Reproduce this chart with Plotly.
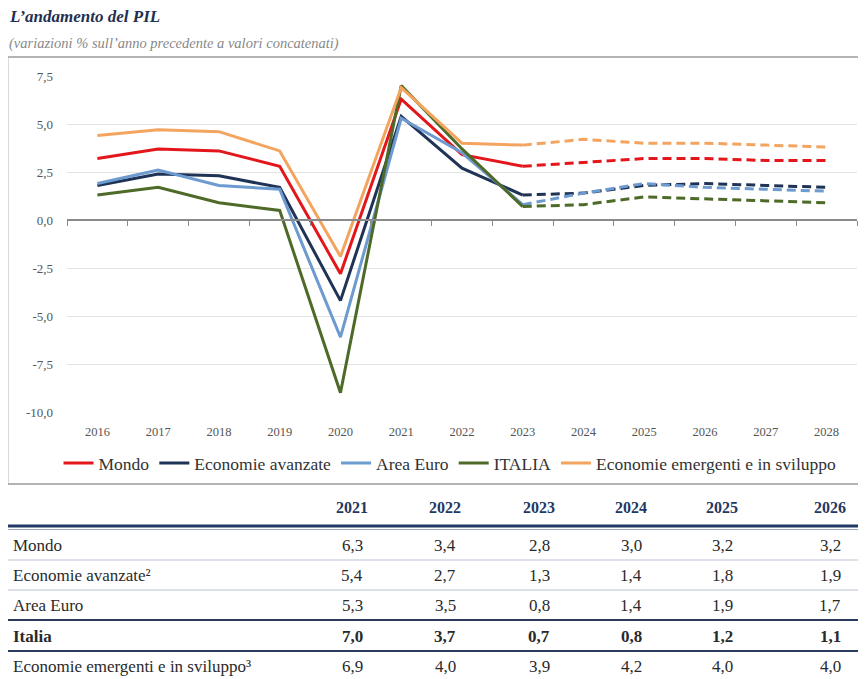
import plotly.graph_objects as go

# ---------------- data ----------------
years = ["2016", "2017", "2018", "2019", "2020", "2021", "2022",
         "2023", "2024", "2025", "2026", "2027", "2028"]
last_actual = "2023"

mondo     = [3.2, 3.7, 3.6, 2.8, -2.8, 6.3, 3.4, 2.8, 3.0, 3.2, 3.2, 3.1, 3.1]
avanzate  = [1.8, 2.4, 2.3, 1.7, -4.2, 5.4, 2.7, 1.3, 1.4, 1.8, 1.9, 1.8, 1.7]
area_euro = [1.9, 2.6, 1.8, 1.6, -6.1, 5.3, 3.5, 0.8, 1.4, 1.9, 1.7, 1.6, 1.5]
italia    = [1.3, 1.7, 0.9, 0.5, -9.0, 7.0, 3.7, 0.7, 0.8, 1.2, 1.1, 1.0, 0.9]
emergenti = [4.4, 4.7, 4.6, 3.6, -1.9, 6.9, 4.0, 3.9, 4.2, 4.0, 4.0, 3.9, 3.8]

series_names = ["Mondo", "Economie avanzate", "Area Euro", "ITALIA",
                "Economie emergenti e in sviluppo"]
series_values = [mondo, avanzate, area_euro, italia, emergenti]
series_colors = ["#e3161b", "#1f3356", "#6d9bd0", "#4e6a28", "#f3a45e"]

y_tickvals = [7.5, 5.0, 2.5, 0.0, -2.5, -5.0, -7.5, -10.0]
y_ticktext = ["7,5", "5,0", "2,5", "0,0", "-2,5", "-5,0", "-7,5", "-10,0"]

table_years = ["2021", "2022", "2023", "2024", "2025", "2026"]
table_rows = ["Mondo", "Economie avanzate²", "Area Euro", "Italia",
              "Economie emergenti e in sviluppo³"]
table_values = [
    ["6,3", "3,4", "2,8", "3,0", "3,2", "3,2"],
    ["5,4", "2,7", "1,3", "1,4", "1,8", "1,9"],
    ["5,3", "3,5", "0,8", "1,4", "1,9", "1,7"],
    ["7,0", "3,7", "0,7", "0,8", "1,2", "1,1"],
    ["6,9", "4,0", "3,9", "4,2", "4,0", "4,0"],
]
bold_row = "Italia"

title_text = "L’andamento del PIL"
subtitle_text = "(variazioni % sull’anno precedente a valori concatenati)"

# ---------------- layout helpers ----------------
OFF = 8                      # page body margin
W, H = 866 - OFF, 679 - OFF  # figure size
PL, PR, PT, PB = 67, 857, 76, 412  # plot area in window pixels
y_min, y_max = -10.0, 7.5


def px(x):
    return (x - PL) / (PR - PL)


def py(y):
    return (PB - y) / (PB - PT)


SERIF = "'Liberation Serif', 'Times New Roman', Times, serif"

fig = go.Figure()

split = years.index(last_actual)
for name, vals, col in zip(series_names, series_values, series_colors):
    fig.add_trace(go.Scatter(
        x=years[:split + 1], y=vals[:split + 1], mode="lines", name=name,
        line=dict(color=col, width=3), legendgroup=name,
    ))
for name, vals, col in zip(series_names, series_values, series_colors):
    fig.add_trace(go.Scatter(
        x=years[split:], y=vals[split:], mode="lines", name=name,
        line=dict(color=col, width=3, dash="9px,5px"), legendgroup=name,
        showlegend=False,
    ))
# invisible trace on the zero-line axis
fig.add_trace(go.Scatter(x=years, y=[0] * len(years), xaxis="x2", mode="lines",
                         line=dict(width=0), showlegend=False, hoverinfo="skip"))

zero_pos = (0 - y_min) / (y_max - y_min)

fig.update_layout(
    width=W, height=H,
    margin=dict(l=PL - OFF, r=W - (PR - OFF), t=PT - OFF, b=H - (PB - OFF), pad=0),
    paper_bgcolor="white", plot_bgcolor="white",
    font=dict(family=SERIF, color="#444"),
    xaxis=dict(type="category", categoryorder="array", categoryarray=years,
               range=[-0.5, len(years) - 0.5],
               showgrid=False, zeroline=False, showline=False,
               ticks="outside", ticklen=8, tickcolor="rgba(0,0,0,0)",
               tickfont=dict(size=12.5, color="#555", family=SERIF)),
    xaxis2=dict(type="category", categoryorder="array", categoryarray=years,
                range=[-0.5, len(years) - 0.5], overlaying="x",
                anchor="free", position=zero_pos, side="bottom",
                showline=True, linecolor="#8a8a8a", linewidth=1.5,
                ticks="outside", tickson="boundaries", ticklen=5,
                tickcolor="#8a8a8a", showticklabels=False, showgrid=False,
                zeroline=False),
    yaxis=dict(range=[y_min, y_max], tickvals=y_tickvals, ticktext=y_ticktext,
               showgrid=True, gridcolor="#e4e4e4", gridwidth=1,
               zeroline=False, showline=False,
               ticklabelstandoff=13,
               tickfont=dict(size=13, color="#555", family=SERIF)),
    legend=dict(orientation="h", x=px(450), xanchor="center",
                y=py(463), yanchor="middle",
                font=dict(size=17.5, color="#333", family=SERIF),
                itemwidth=30, tracegroupgap=0, bgcolor="rgba(0,0,0,0)"),
    showlegend=True,
)

shapes = []
annotations = []

# chart frame
shapes.append(dict(type="line", xref="paper", yref="paper",
                   x0=px(8), x1=px(866), y0=py(57), y1=py(57),
                   line=dict(color="#9a9a9a", width=1.5)))
shapes.append(dict(type="line", xref="paper", yref="paper",
                   x0=px(8), x1=px(8), y0=py(57), y1=py(484),
                   line=dict(color="#b5b5b5", width=1)))
shapes.append(dict(type="line", xref="paper", yref="paper",
                   x0=px(8), x1=px(866), y0=py(484), y1=py(484),
                   line=dict(color="#9a9a9a", width=1.5)))

# title
annotations.append(dict(xref="paper", yref="paper", x=px(7), y=py(17),
                        xanchor="left", yanchor="middle", showarrow=False,
                        text="<b><i>" + title_text + "</i></b>",
                        font=dict(size=17, color="#1f3050", family=SERIF)))
annotations.append(dict(xref="paper", yref="paper", x=px(7), y=py(44),
                        xanchor="left", yanchor="middle", showarrow=False,
                        text="<i>" + subtitle_text + "</i>",
                        font=dict(size=14.5, color="#888", family=SERIF)))

# table
col_x = [352, 445, 539, 631, 722, 830]
row_y = [545, 575, 605, 636, 666]
header_y = 508
for yr, cx in zip(table_years, col_x):
    annotations.append(dict(xref="paper", yref="paper", x=px(cx), y=py(header_y),
                            xanchor="center", yanchor="middle", showarrow=False,
                            text="<b>" + yr + "</b>",
                            font=dict(size=16, color="#1f3864", family=SERIF)))
for rname, vals, ry in zip(table_rows, table_values, row_y):
    b = rname == bold_row
    annotations.append(dict(xref="paper", yref="paper", x=px(11), y=py(ry),
                            xanchor="left", yanchor="middle", showarrow=False,
                            text=("<b>%s</b>" % rname) if b else rname,
                            font=dict(size=17, color="#2a2a2a", family=SERIF)))
    for v, cx in zip(vals, col_x):
        annotations.append(dict(xref="paper", yref="paper", x=px(cx), y=py(ry),
                                xanchor="center", yanchor="middle", showarrow=False,
                                text=("<b>%s</b>" % v) if b else v,
                                font=dict(size=17, color="#2a2a2a", family=SERIF)))

# table rules
def hline(y, color, width):
    shapes.append(dict(type="line", xref="paper", yref="paper",
                       x0=px(8), x1=px(866), y0=py(y), y1=py(y),
                       line=dict(color=color, width=width)))

hline(526, "#1f3864", 3)
hline(529.5, "#9aa6bd", 1)
hline(560, "#b9c2d3", 1)
hline(590, "#b9c2d3", 1)
hline(620, "#2a3a5c", 2)
hline(651, "#2a3a5c", 2)

fig.update_layout(shapes=shapes, annotations=annotations)

fig.write_html("out.html")
